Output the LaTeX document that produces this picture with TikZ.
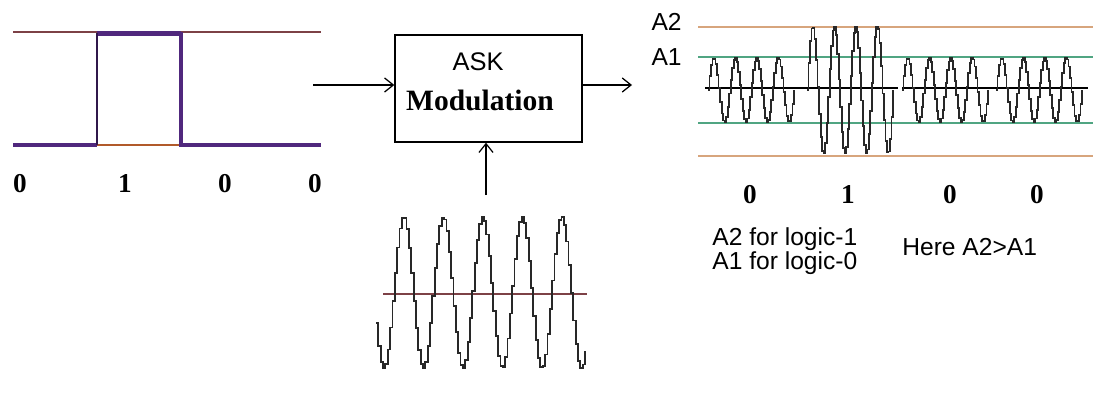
\documentclass[tikz,border=0pt]{standalone}
\usepackage{fontspec}
\setmainfont{Liberation Serif}
\setsansfont{Liberation Sans}
\usetikzlibrary{arrows.meta}

\begin{document}
\begin{tikzpicture}[x=0.02cm,y=-0.02cm]
  % Colors
  \definecolor{levelcolor}{RGB}{125,65,70}
  \definecolor{pulsecolor}{RGB}{80,40,125}
  \definecolor{ampcolor}{RGB}{215,165,125}
  \definecolor{refcolor}{RGB}{80,165,130}
  \definecolor{wavecolor}{RGB}{40,40,40}

  % Styles
  \tikzstyle{thin line}=[line width=0.8pt]
  \tikzstyle{thick line}=[line width=2.4pt,pulsecolor]
  \tikzstyle{wave}=[line width=1.05pt,wavecolor,const plot]
  \tikzstyle{arrow}=[-{Straight Barb[length=5pt,width=8pt]},line width=0.7pt]
  \tikzstyle{bit}=[font=\bfseries\fontsize{15.5}{18}\selectfont]
  \tikzstyle{note}=[font=\sffamily\fontsize{14}{13}\selectfont,inner sep=0pt]

  \useasboundingbox (0,0) rectangle (1119,403);

  % The data signal
  \draw[thin line,levelcolor] (13,32) -- (97,32) (181,32) -- (321,32);
  \draw[thin line,levelcolor!60!orange] (97,145) -- (181,145);
  \draw[thick line] (13,145) -- (97,145) (97,33.5) -- (181,33.5);
  \draw[thick line] (181,32) -- (181,145) -- (321,145);
  \draw[thin line,pulsecolor!60!black] (97,145) -- (97,33);

  \foreach \x/\xtext [count=\i] in {20/0,125/1,225/0,315/0}
    \node[bit] (in bit \i) at (\x,184) {\xtext};

  % ASK modulator
  \node[draw,thin line,minimum width=3.74cm,minimum height=2.14cm] (mod) at (488.5,88.5) {};
  \node[note,font=\sffamily\fontsize{14.5}{17}\selectfont] (ask) at (478,62) {ASK};
  \node[bit,font=\bfseries\fontsize{16.8}{20}\selectfont] (modlbl) at (480,100) {Modulation};

  \coordinate (data in) at (313,85);
  \coordinate (ask out) at (632,85);
  \coordinate (carrier in) at (486,195);
  \draw[arrow] (data in) -- (data in -| mod.west);
  \draw[arrow] (mod.east |- ask out) -- (ask out);
  \draw[arrow] (carrier in) -- (carrier in |- mod.south);

  % Carrier
  \draw[thin line,levelcolor] (383,294) -- (587,294);
  \draw[wave] plot[domain=376:585,samples=90] (\x,{292.5-75.5*cos(((\x-403)/39.5)*360)});

  % ASK output
  \draw[thin line,ampcolor] (698,27) -- (1093,27) (698,156) -- (1093,156);
  \draw[thin line,refcolor] (698,57) -- (1093,57) (698,123) -- (1093,123);
  \draw[thin line] (705,88) -- (898,88) (902,88) -- (1088,88);
  \foreach \xstart/\amp in {708/32,807/63.5,902/32,996/32}
    \draw[wave] plot[domain=\xstart:\xstart+86,samples=58]
      (\x,{90-\amp*sin(((\x-\xstart)/21.5)*360)});

  \node[note,anchor=east] (lvl a2) at (682,22) {A2};
  \node[note,anchor=east] (lvl a1) at (682,57) {A1};

  \foreach \x/\xtext [count=\i] in {750/0,848/1,950/0,1037/0}
    \node[bit] (out bit \i) at (\x,195) {\xtext};

  \node[note,anchor=west,align=left] (legend) at (712,251) {A2 for logic-1\\A1 for logic-0};
  \node[note,anchor=west] (here) at (902,247) {Here A2>A1};
\end{tikzpicture}
\end{document}
